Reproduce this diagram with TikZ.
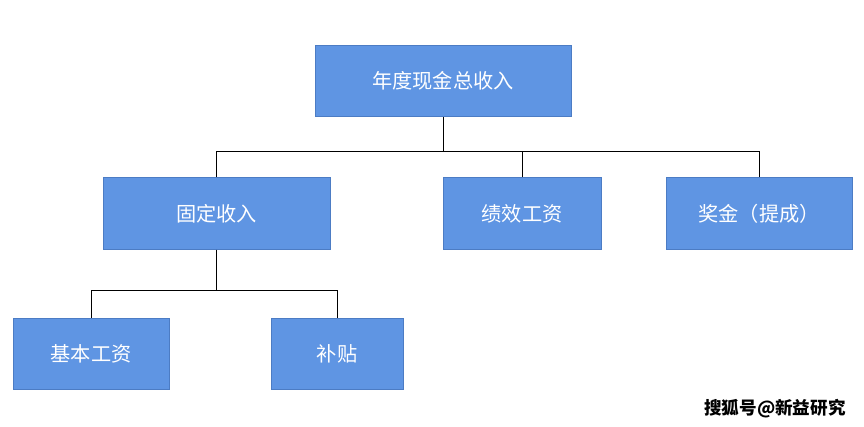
\documentclass[tikz,border=0pt]{standalone}
\usepackage{fontspec}
\setmainfont{Noto Sans CJK SC}
\definecolor{boxblue}{HTML}{5F95E3}
\definecolor{boxline}{HTML}{4C7CC4}
\tikzset{item/.style={rectangle, draw=boxline, fill=boxblue, text=white, minimum height=1.43cm, font=\fontsize{11.5}{13}\selectfont}}
\begin{document}
\begin{tikzpicture}
\useasboundingbox (0,0) rectangle (17.28,-8.54);
\node[item, minimum width=5.12cm] (total) at (8.86,-1.62) {年度现金总收入};
\node[item, minimum width=4.54cm] (fixed) at (4.33,-4.27) {固定收入};
\node[item, minimum width=3.16cm] (perf) at (10.44,-4.27) {绩效工资};
\node[item, minimum width=3.72cm] (bonus) at (15.18,-4.27) {奖金（提成）};
\node[item, minimum width=3.12cm] (base) at (1.82,-7.08) {基本工资};
\node[item, minimum width=2.64cm] (subsidy) at (6.74,-7.08) {补贴};
\node[font=\bfseries\fontsize{10}{12}\selectfont] (mark) at (15.5,-8.18) {搜狐号@新益研究};

\coordinate (j1) at (8.86,-3.02);
\coordinate (j2) at (4.33,-5.8);
\draw (total) -- (j1);
\draw (fixed.north) |- (j1);
\draw (j1) -| (bonus.north);
\draw (perf.north) -- (perf.north |- j1);
\draw (fixed) -- (j2);
\draw (base.north) |- (j2);
\draw (j2) -| (subsidy.north);
\end{tikzpicture}
\end{document}
